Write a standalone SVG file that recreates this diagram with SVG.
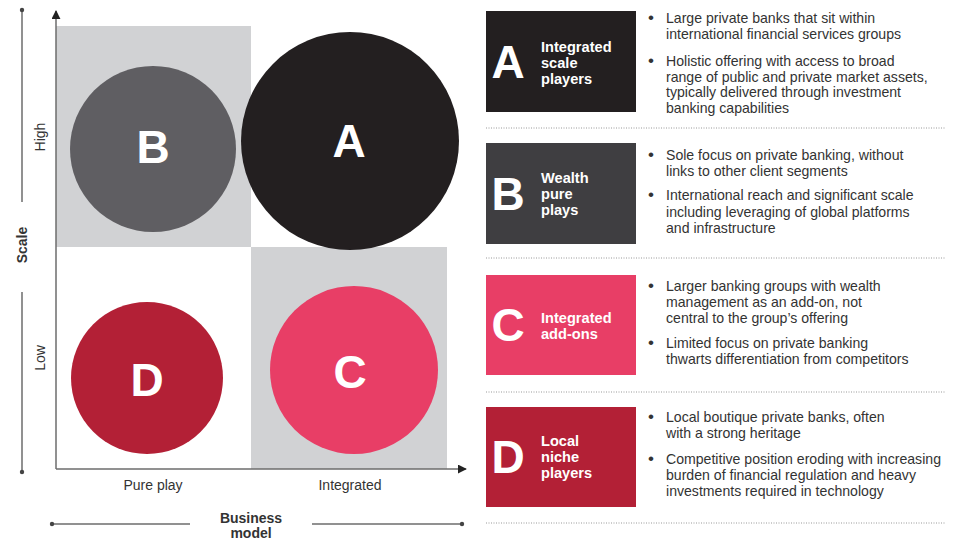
<svg xmlns="http://www.w3.org/2000/svg" width="958" height="541" viewBox="0 0 958 541">
<style>
text{font-family:"Liberation Sans",Arial,sans-serif}
.ax{stroke:#6d6d6d;stroke-width:1.5;fill:none}
.dot{fill:#444}
.big{fill:#fff;font-weight:bold;font-size:46px;text-anchor:middle}
.lbl{fill:#fff;font-weight:bold;font-size:14.6px}
.bt{fill:#333;font-size:14.1px}
.bl{fill:#333;font-size:17px}
.axl{fill:#333;font-size:14px}
.sep{stroke:#999;stroke-width:1;stroke-dasharray:1 1.5}
</style>
<defs>
<marker id="arr" viewBox="0 0 10 10" refX="9" refY="5" markerWidth="9" markerHeight="9" markerUnits="userSpaceOnUse" orient="auto"><path d="M0,0L10,5L0,10z" fill="#222"/></marker>
</defs>
<rect width="958" height="541" fill="#fff"/>
<g id="quadrants">
<rect x="56" y="26" width="195" height="221" fill="#d1d2d4"/>
<rect x="251" y="247" width="196" height="222" fill="#d1d2d4"/>
</g>
<g id="connectors">
<line class="ax" x1="56" y1="469" x2="56" y2="11" marker-end="url(#arr)"/>
<line class="ax" x1="56" y1="469" x2="466" y2="469" marker-end="url(#arr)"/>
<line class="ax" x1="22" y1="10" x2="22" y2="202"/>
<line class="ax" x1="22" y1="292" x2="22" y2="472"/>
<circle class="dot" cx="22" cy="10" r="2.2"/>
<circle class="dot" cx="22" cy="472" r="2.2"/>
<line class="ax" x1="52" y1="524" x2="190" y2="524"/>
<line class="ax" x1="312" y1="524" x2="462" y2="524"/>
<circle class="dot" cx="52" cy="524" r="2.2"/>
<circle class="dot" cx="462" cy="524" r="2.2"/>
</g>
<g id="axis-labels">
<text class="axl" font-weight="bold" text-anchor="middle" transform="translate(27,245) rotate(-90)">Scale</text>
<text class="axl" text-anchor="middle" transform="translate(45,137) rotate(-90)">High</text>
<text class="axl" text-anchor="middle" transform="translate(45,358) rotate(-90)">Low</text>
<text class="axl" x="153" y="490" text-anchor="middle">Pure play</text>
<text class="axl" x="350" y="490" text-anchor="middle">Integrated</text>
<text class="axl" x="251" y="523" text-anchor="middle" font-weight="bold">Business</text>
<text class="axl" x="251" y="538" text-anchor="middle" font-weight="bold">model</text>
</g>
<g id="circle-B"><circle cx="153" cy="149" r="83" fill="#5f5e62"/><text class="big" x="153" y="163">B</text></g>
<g id="circle-A"><circle cx="350" cy="141" r="109" fill="#231f20"/><text class="big" x="349" y="157">A</text></g>
<g id="circle-D"><circle cx="147" cy="378" r="76" fill="#b32036"/><text class="big" x="147" y="396">D</text></g>
<g id="circle-C"><circle cx="354" cy="370" r="84" fill="#e83e66"/><text class="big" x="350" y="388">C</text></g>

<g id="legend-A">
<rect x="486" y="11" width="150" height="101" fill="#231f20"/>
<text class="big" x="508" y="78">A</text>
<text class="lbl" x="541" y="52">Integrated</text>
<text class="lbl" x="541" y="68">scale</text>
<text class="lbl" x="541" y="84">players</text>
<text class="bl" x="648" y="23">•</text>
<text class="bt" x="666" y="23">Large private banks that sit within</text>
<text class="bt" x="666" y="39">international financial services groups</text>
<text class="bl" x="648" y="66">•</text>
<text class="bt" x="666" y="66">Holistic offering with access to broad</text>
<text class="bt" x="666" y="82">range of public and private market assets,</text>
<text class="bt" x="666" y="97">typically delivered through investment</text>
<text class="bt" x="666" y="113">banking capabilities</text>
<line class="sep" x1="486" y1="128" x2="945" y2="128"/>
</g>
<g id="legend-B">
<rect x="486" y="143" width="150" height="101" fill="#3f3e41"/>
<text class="big" x="508" y="210">B</text>
<text class="lbl" x="541" y="183">Wealth</text>
<text class="lbl" x="541" y="199">pure</text>
<text class="lbl" x="541" y="215">plays</text>
<text class="bl" x="648" y="160">•</text>
<text class="bt" x="666" y="160">Sole focus on private banking, without</text>
<text class="bt" x="666" y="176">links to other client segments</text>
<text class="bl" x="648" y="200">•</text>
<text class="bt" x="666" y="200">International reach and significant scale</text>
<text class="bt" x="666" y="217">including leveraging of global platforms</text>
<text class="bt" x="666" y="233">and infrastructure</text>
<line class="sep" x1="486" y1="258" x2="945" y2="258"/>
</g>
<g id="legend-C">
<rect x="486" y="275" width="150" height="100" fill="#e83e66"/>
<text class="big" x="508" y="341">C</text>
<text class="lbl" x="541" y="323">Integrated</text>
<text class="lbl" x="541" y="339">add-ons</text>
<text class="bl" x="648" y="291">•</text>
<text class="bt" x="666" y="291">Larger banking groups with wealth</text>
<text class="bt" x="666" y="307">management as an add-on, not</text>
<text class="bt" x="666" y="323">central to the group’s offering</text>
<text class="bl" x="648" y="348">•</text>
<text class="bt" x="666" y="348">Limited focus on private banking</text>
<text class="bt" x="666" y="364">thwarts differentiation from competitors</text>
<line class="sep" x1="486" y1="392" x2="945" y2="392"/>
</g>
<g id="legend-D">
<rect x="486" y="407" width="150" height="100" fill="#b32036"/>
<text class="big" x="508" y="473">D</text>
<text class="lbl" x="541" y="446">Local</text>
<text class="lbl" x="541" y="462">niche</text>
<text class="lbl" x="541" y="478">players</text>
<text class="bl" x="648" y="422">•</text>
<text class="bt" x="666" y="422">Local boutique private banks, often</text>
<text class="bt" x="666" y="438">with a strong heritage</text>
<text class="bl" x="648" y="464">•</text>
<text class="bt" x="666" y="464">Competitive position eroding with increasing</text>
<text class="bt" x="666" y="480">burden of financial regulation and heavy</text>
<text class="bt" x="666" y="496">investments required in technology</text>
<line class="sep" x1="486" y1="523" x2="945" y2="523"/>
</g>
</svg>
